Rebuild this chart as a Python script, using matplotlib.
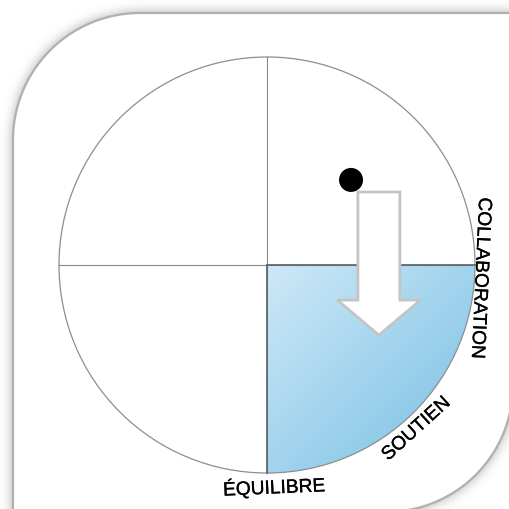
import numpy as np
import matplotlib.pyplot as plt
import matplotlib.patheffects as pe
from matplotlib.path import Path
from matplotlib.patches import PathPatch, Circle, Wedge, FancyArrow

# position of the person on the unit circle (x right, y up)
dot_score = (0.404, 0.409)
# movement arrow, from -> to
arrow_from = (0.538, 0.351)
arrow_to = (0.538, -0.337)
# highlighted quadrant (degrees)
quadrant = (270, 360)
# ring labels
labels = ['COLLABORATION', 'SOUTIEN', 'ÉQUILIBRE']
label_angle = [-3.4, -47.7, -88.2]
label_radius = [1.026, 1.068, 1.07]
label_rotation = [-92.6, 42.3, 2.5]

W, H = 509, 510
CX, CY, R = 267, 266, 208


def px(sx, sy):
    return CX + R * sx, CY - R * sy


def card_path():
    # card with rounded top-left and bottom-right corners (pixel coords)
    rc = 127
    t1 = np.linspace(np.pi, 1.5 * np.pi, 40)
    tl = np.c_[13 + rc + rc * np.cos(t1), 14 + rc + rc * np.sin(t1)]
    t2 = np.linspace(0, 0.5 * np.pi, 40)
    br = np.c_[513 - rc + rc * np.cos(t2), 513 - rc + rc * np.sin(t2)]
    verts = np.vstack([tl, [[513, 14]], br, [[13, 513]], tl[:1]])
    return Path(verts, closed=True)


fig = plt.figure(figsize=(5.09, 5.10), dpi=100)
ax = fig.add_axes([0, 0, 1, 1])
ax.set_xlim(0, W)
ax.set_ylim(H, 0)
ax.axis('off')

# soft shadow round the card
card = card_path()
yy, xx = np.mgrid[0:H, 0:W] + 0.5
mask = card.contains_points(np.c_[xx.ravel(), yy.ravel()]).reshape(H, W).astype(float)
k = np.exp(-0.5 * (np.arange(-20, 21) / 6.0) ** 2)
k /= k.sum()
pad = np.pad(mask, 20, mode='edge')
blur = np.apply_along_axis(lambda r: np.convolve(r, k, mode='same'), 1, pad)
blur = np.apply_along_axis(lambda c: np.convolve(c, k, mode='same'), 0, blur)[20:-20, 20:-20]
shadow = np.zeros((H, W, 4))
shadow[..., :3] = 0.35
shadow[..., 3] = 0.55 * blur
ax.imshow(shadow, extent=(0, W, H, 0), zorder=0, interpolation='bilinear')
ax.add_patch(PathPatch(card, facecolor='white', edgecolor='#b0b0b0', lw=1.6, zorder=1))

# blue gradient in the highlighted quadrant
wedge = Wedge((CX, CY), R, -quadrant[1], -quadrant[0], facecolor='none', edgecolor='none')
ax.add_patch(wedge)
gy, gx = np.mgrid[0:R, 0:R]
t = (gx + gy) / (2.0 * R)
c0 = np.array([0.81, 0.91, 0.97])
c1 = np.array([0.46, 0.75, 0.89])
grad = c0 + (c1 - c0) * t[..., None]
im = ax.imshow(grad, extent=(CX, CX + R, CY + R, CY), zorder=2, interpolation='bilinear')
im.set_clip_path(wedge)

# circle and cross
ax.add_patch(Circle((CX, CY), R, facecolor='none', edgecolor='#8e8e8e', lw=0.9, zorder=3))
ax.plot([CX - R, CX + R], [CY, CY], color='#8a8a8a', lw=0.8, zorder=3)
ax.plot([CX, CX], [CY - R, CY + R], color='#8a8a8a', lw=0.8, zorder=3)
ax.plot([CX, CX + R], [CY, CY], color='#5f6a70', lw=1.3, zorder=3)
ax.plot([CX, CX], [CY, CY + R], color='#5f6a70', lw=1.3, zorder=3)

# arrow and dot
x0, y0 = px(*arrow_from)
x1, y1 = px(*arrow_to)
ax.add_patch(FancyArrow(x0, y0, x1 - x0, y1 - y0, width=42, head_width=83, head_length=35,
                        length_includes_head=True, facecolor='white', edgecolor='#c4c4c4',
                        lw=2, joinstyle='miter', zorder=4))
dx, dy = px(*dot_score)
ax.add_patch(Circle((dx, dy), 12, facecolor='black', edgecolor='none', zorder=5))

# labels round the ring
for name, a, r, rot in zip(labels, label_angle, label_radius, label_rotation):
    lx, ly = px(r * np.cos(np.radians(a)), r * np.sin(np.radians(a)))
    ax.text(lx, ly, name, rotation=rot, rotation_mode='anchor', ha='center', va='center',
            fontsize=13.8, family='Liberation Sans', color='black', zorder=6,
            path_effects=[pe.withStroke(linewidth=0.2, foreground='black')])

fig.savefig('out.png', dpi=100)
